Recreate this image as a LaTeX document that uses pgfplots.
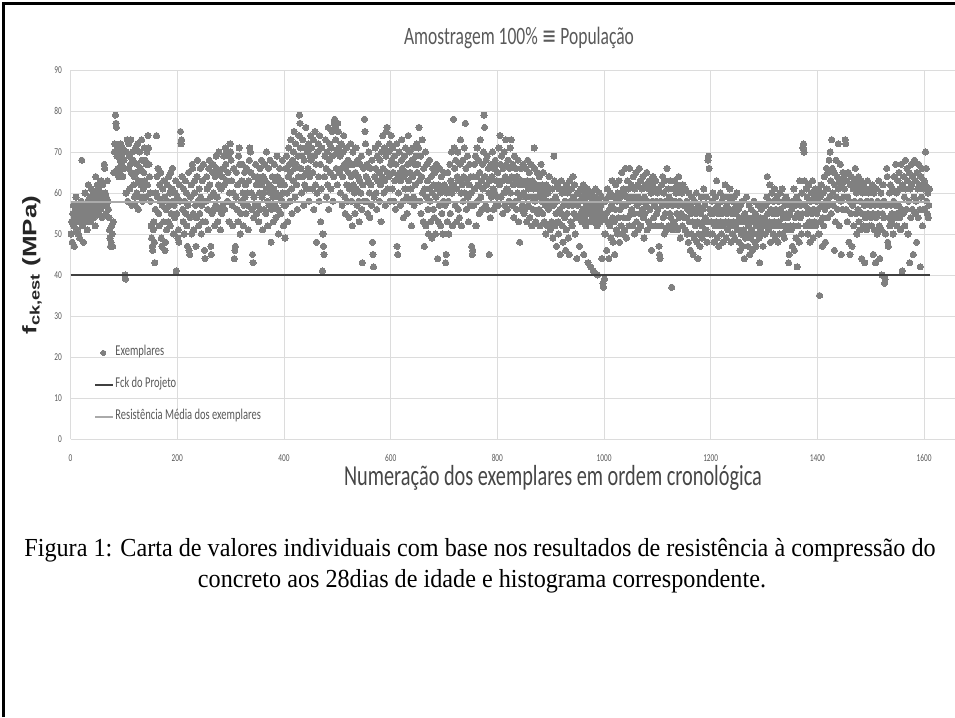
\documentclass[border=0pt]{standalone}
\usepackage{fontspec}
\usepackage{graphicx}
\usepackage{pgfplots}
\usepackage{pgfplotstable}
\pgfplotsset{compat=1.18}
\setmainfont[FakeStretch=0.93]{Liberation Serif}
\newfontfamily\calfont[FakeStretch=0.7]{Carlito}
\newfontfamily\calsym[FakeStretch=0.7]{DejaVu Sans}
\newfontfamily\arialb{Liberation Sans}
\definecolor{dotgray}{RGB}{128,128,128}
\definecolor{fckcol}{RGB}{64,64,64}
\definecolor{meancol}{RGB}{170,170,170}
\definecolor{gridgray}{RGB}{220,220,220}
\definecolor{ticklab}{RGB}{89,89,89}
\definecolor{xlabcol}{RGB}{70,70,70}
\pgfplotsset{
  dotlegend/.style={legend image code/.code={\path[draw=none,fill=none] (0pt,-3pt) rectangle (18pt,3pt);
    \draw[##1, mark size=2.5pt] plot coordinates {(8pt,0pt)};}},
  linelegend/.style={legend image code/.code={\draw[##1, line width=2.2pt] (0pt,0pt) -- (18pt,0pt);}},
}

\pgfplotstableread[row sep=\\,header=false]{
50\\ 53\\ 48\\ 55\\ 57\\ 52\\ 47\\ 54\\ 56\\ 59\\ 53\\ 51\\ 55\\ 50\\ 54\\ 57\\ 49\\ 56\\ 53\\ 58\\ 68\\ 55\\ 52\\ 48\\ 56\\ 54\\ 60\\ 57\\ 53\\ 55\\ 51\\ 58\\ 62\\ 56\\ 54\\ 59\\ 57\\ 53\\ 61\\ 55\\ 58\\ 56\\ 60\\ 54\\ 57\\ 52\\ 64\\ 59\\ 56\\ 62\\
58\\ 55\\ 61\\ 57\\ 60\\ 56\\ 63\\ 59\\ 54\\ 62\\ 58\\ 57\\ 67\\ 66\\ 60\\ 55\\ 59\\ 57\\ 63\\ 58\\ 56\\ 54\\ 51\\ 49\\ 47\\ 48\\ 52\\ 50\\ 47\\ 53\\ 65\\ 70\\ 72\\ 79\\ 77\\ 76\\ 69\\ 71\\ 66\\ 64\\ 70\\ 65\\ 68\\ 72\\ 67\\ 69\\ 71\\ 64\\ 70\\ 68\\
66\\ 40\\ 39\\ 60\\ 70\\ 73\\ 58\\ 66\\ 72\\ 69\\ 61\\ 67\\ 73\\ 65\\ 57\\ 70\\ 68\\ 62\\ 64\\ 59\\ 57\\ 71\\ 65\\ 60\\ 67\\ 72\\ 56\\ 63\\ 70\\ 59\\ 66\\ 62\\ 73\\ 68\\ 58\\ 61\\ 65\\ 71\\ 63\\ 68\\ 59\\ 67\\ 70\\ 62\\ 74\\ 71\\ 67\\ 64\\ 60\\ 58\\
52\\ 49\\ 47\\ 46\\ 51\\ 53\\ 48\\ 43\\ 56\\ 60\\ 74\\ 64\\ 59\\ 66\\ 55\\ 52\\ 62\\ 58\\ 65\\ 49\\ 47\\ 57\\ 61\\ 53\\ 63\\ 59\\ 46\\ 48\\ 56\\ 51\\ 62\\ 58\\ 53\\ 64\\ 57\\ 60\\ 52\\ 65\\ 55\\ 61\\ 66\\ 58\\ 50\\ 57\\ 54\\ 60\\ 63\\ 41\\ 55\\ 59\\
49\\ 51\\ 48\\ 62\\ 58\\ 75\\ 72\\ 73\\ 64\\ 56\\ 53\\ 61\\ 50\\ 58\\ 63\\ 55\\ 60\\ 52\\ 47\\ 57\\ 65\\ 46\\ 45\\ 54\\ 59\\ 62\\ 50\\ 67\\ 66\\ 55\\ 51\\ 60\\ 63\\ 57\\ 47\\ 54\\ 64\\ 68\\ 58\\ 52\\ 61\\ 55\\ 66\\ 59\\ 50\\ 57\\ 63\\ 53\\ 67\\ 58\\
46\\ 44\\ 53\\ 58\\ 64\\ 61\\ 56\\ 51\\ 66\\ 68\\ 62\\ 59\\ 47\\ 45\\ 55\\ 65\\ 67\\ 60\\ 56\\ 52\\ 64\\ 57\\ 69\\ 66\\ 59\\ 53\\ 62\\ 70\\ 65\\ 56\\ 51\\ 61\\ 55\\ 64\\ 57\\ 66\\ 69\\ 62\\ 56\\ 71\\ 67\\ 70\\ 63\\ 58\\ 65\\ 69\\ 53\\ 60\\ 72\\ 70\\
68\\ 63\\ 57\\ 52\\ 60\\ 66\\ 44\\ 46\\ 47\\ 59\\ 65\\ 56\\ 62\\ 53\\ 69\\ 71\\ 67\\ 50\\ 55\\ 58\\ 63\\ 67\\ 60\\ 52\\ 57\\ 65\\ 59\\ 62\\ 55\\ 66\\ 60\\ 57\\ 51\\ 63\\ 68\\ 71\\ 70\\ 65\\ 60\\ 56\\ 45\\ 43\\ 54\\ 59\\ 64\\ 57\\ 67\\ 62\\ 55\\ 64\\
57\\ 63\\ 53\\ 60\\ 66\\ 56\\ 62\\ 68\\ 59\\ 51\\ 64\\ 60\\ 56\\ 67\\ 63\\ 55\\ 70\\ 61\\ 58\\ 52\\ 66\\ 57\\ 62\\ 68\\ 60\\ 48\\ 56\\ 64\\ 59\\ 53\\ 61\\ 67\\ 57\\ 63\\ 54\\ 60\\ 69\\ 64\\ 56\\ 50\\ 59\\ 66\\ 62\\ 55\\ 63\\ 58\\ 68\\ 60\\ 52\\ 57\\
62\\ 49\\ 57\\ 66\\ 69\\ 60\\ 53\\ 64\\ 71\\ 67\\ 58\\ 65\\ 73\\ 61\\ 55\\ 68\\ 63\\ 70\\ 75\\ 66\\ 59\\ 72\\ 67\\ 62\\ 56\\ 69\\ 64\\ 74\\ 79\\ 77\\ 71\\ 66\\ 60\\ 69\\ 73\\ 64\\ 57\\ 68\\ 62\\ 71\\ 76\\ 65\\ 61\\ 70\\ 66\\ 72\\ 58\\ 64\\ 69\\ 74\\
68\\ 71\\ 61\\ 65\\ 73\\ 56\\ 69\\ 75\\ 62\\ 67\\ 48\\ 60\\ 70\\ 72\\ 64\\ 58\\ 74\\ 67\\ 53\\ 61\\ 71\\ 41\\ 50\\ 47\\ 45\\ 64\\ 69\\ 73\\ 66\\ 59\\ 70\\ 62\\ 76\\ 56\\ 68\\ 72\\ 65\\ 61\\ 71\\ 75\\ 69\\ 58\\ 64\\ 77\\ 78\\ 76\\ 73\\ 66\\ 70\\ 62\\
77\\ 75\\ 71\\ 65\\ 69\\ 60\\ 72\\ 66\\ 57\\ 64\\ 70\\ 74\\ 67\\ 59\\ 55\\ 66\\ 71\\ 62\\ 58\\ 68\\ 65\\ 54\\ 61\\ 67\\ 72\\ 64\\ 58\\ 52\\ 70\\ 62\\ 67\\ 60\\ 55\\ 65\\ 71\\ 61\\ 57\\ 68\\ 64\\ 58\\ 53\\ 63\\ 67\\ 60\\ 69\\ 56\\ 43\\ 62\\ 66\\ 58\\
78\\ 75\\ 72\\ 64\\ 58\\ 67\\ 55\\ 63\\ 70\\ 60\\ 54\\ 66\\ 62\\ 57\\ 68\\ 48\\ 45\\ 42\\ 59\\ 64\\ 71\\ 66\\ 60\\ 56\\ 69\\ 63\\ 72\\ 65\\ 58\\ 68\\ 62\\ 53\\ 70\\ 64\\ 74\\ 66\\ 60\\ 71\\ 63\\ 57\\ 69\\ 75\\ 76\\ 65\\ 61\\ 70\\ 64\\ 72\\ 58\\ 67\\
74\\ 68\\ 61\\ 71\\ 65\\ 58\\ 69\\ 63\\ 56\\ 67\\ 72\\ 47\\ 45\\ 64\\ 60\\ 70\\ 65\\ 57\\ 63\\ 68\\ 73\\ 66\\ 58\\ 54\\ 64\\ 69\\ 61\\ 71\\ 65\\ 59\\ 55\\ 67\\ 74\\ 63\\ 70\\ 58\\ 65\\ 61\\ 52\\ 68\\ 64\\ 71\\ 59\\ 57\\ 67\\ 62\\ 69\\ 58\\ 72\\ 65\\
67\\ 71\\ 76\\ 63\\ 58\\ 69\\ 55\\ 64\\ 73\\ 60\\ 53\\ 66\\ 47\\ 61\\ 70\\ 52\\ 59\\ 67\\ 63\\ 56\\ 50\\ 61\\ 68\\ 58\\ 53\\ 64\\ 49\\ 60\\ 66\\ 56\\ 62\\ 54\\ 65\\ 50\\ 59\\ 67\\ 61\\ 44\\ 53\\ 62\\ 57\\ 66\\ 60\\ 52\\ 64\\ 55\\ 61\\ 50\\ 58\\ 65\\
62\\ 57\\ 43\\ 45\\ 60\\ 53\\ 65\\ 58\\ 50\\ 61\\ 67\\ 55\\ 63\\ 70\\ 60\\ 52\\ 62\\ 78\\ 71\\ 66\\ 57\\ 68\\ 61\\ 53\\ 64\\ 70\\ 56\\ 63\\ 54\\ 67\\ 73\\ 60\\ 52\\ 62\\ 68\\ 58\\ 64\\ 71\\ 60\\ 77\\ 66\\ 56\\ 63\\ 69\\ 59\\ 53\\ 62\\ 67\\ 57\\ 64\\
60\\ 47\\ 45\\ 46\\ 64\\ 57\\ 67\\ 61\\ 69\\ 52\\ 64\\ 71\\ 58\\ 62\\ 68\\ 55\\ 65\\ 73\\ 59\\ 63\\ 56\\ 67\\ 61\\ 70\\ 79\\ 76\\ 64\\ 57\\ 68\\ 62\\ 69\\ 56\\ 66\\ 60\\ 45\\ 63\\ 54\\ 67\\ 59\\ 64\\ 70\\ 61\\ 56\\ 66\\ 60\\ 68\\ 57\\ 63\\ 67\\ 59\\
65\\ 57\\ 71\\ 62\\ 74\\ 67\\ 59\\ 69\\ 63\\ 55\\ 66\\ 60\\ 70\\ 57\\ 64\\ 73\\ 67\\ 61\\ 56\\ 68\\ 63\\ 58\\ 66\\ 71\\ 60\\ 73\\ 64\\ 57\\ 67\\ 62\\ 54\\ 69\\ 63\\ 58\\ 66\\ 56\\ 64\\ 60\\ 68\\ 53\\ 62\\ 48\\ 59\\ 66\\ 56\\ 63\\ 57\\ 67\\ 60\\ 55\\
62\\ 56\\ 66\\ 59\\ 53\\ 63\\ 68\\ 57\\ 61\\ 65\\ 54\\ 62\\ 67\\ 59\\ 52\\ 63\\ 56\\ 61\\ 71\\ 66\\ 58\\ 53\\ 62\\ 59\\ 65\\ 55\\ 61\\ 56\\ 64\\ 52\\ 60\\ 67\\ 58\\ 62\\ 55\\ 65\\ 59\\ 53\\ 61\\ 57\\ 50\\ 62\\ 58\\ 52\\ 60\\ 56\\ 64\\ 57\\ 51\\ 61\\
58\\ 53\\ 61\\ 49\\ 57\\ 69\\ 63\\ 52\\ 59\\ 55\\ 47\\ 58\\ 62\\ 53\\ 50\\ 61\\ 56\\ 45\\ 55\\ 63\\ 60\\ 52\\ 48\\ 57\\ 61\\ 54\\ 58\\ 46\\ 51\\ 62\\ 55\\ 60\\ 49\\ 57\\ 45\\ 63\\ 58\\ 53\\ 61\\ 52\\ 57\\ 64\\ 59\\ 55\\ 62\\ 50\\ 58\\ 54\\ 44\\ 60\\
57\\ 54\\ 60\\ 47\\ 58\\ 55\\ 61\\ 53\\ 59\\ 56\\ 62\\ 45\\ 54\\ 58\\ 60\\ 52\\ 57\\ 55\\ 61\\ 43\\ 56\\ 53\\ 59\\ 57\\ 42\\ 55\\ 60\\ 54\\ 58\\ 41\\ 56\\ 53\\ 59\\ 61\\ 55\\ 57\\ 52\\ 40\\ 58\\ 54\\ 60\\ 56\\ 53\\ 57\\ 59\\ 44\\ 55\\ 38\\ 37\\ 54\\
39\\ 50\\ 58\\ 55\\ 46\\ 61\\ 53\\ 59\\ 44\\ 56\\ 52\\ 60\\ 49\\ 57\\ 63\\ 54\\ 48\\ 59\\ 53\\ 45\\ 56\\ 62\\ 51\\ 58\\ 50\\ 60\\ 54\\ 63\\ 48\\ 56\\ 59\\ 52\\ 65\\ 57\\ 50\\ 61\\ 54\\ 60\\ 51\\ 66\\ 57\\ 49\\ 59\\ 63\\ 54\\ 61\\ 52\\ 66\\ 58\\ 55\\
62\\ 56\\ 52\\ 59\\ 64\\ 55\\ 50\\ 61\\ 58\\ 65\\ 53\\ 57\\ 62\\ 51\\ 59\\ 66\\ 55\\ 63\\ 52\\ 58\\ 61\\ 56\\ 64\\ 54\\ 49\\ 59\\ 55\\ 62\\ 57\\ 65\\ 51\\ 58\\ 61\\ 53\\ 63\\ 56\\ 52\\ 60\\ 46\\ 62\\ 58\\ 64\\ 54\\ 57\\ 61\\ 52\\ 63\\ 58\\ 55\\ 60\\
56\\ 61\\ 47\\ 45\\ 44\\ 58\\ 52\\ 62\\ 57\\ 64\\ 54\\ 60\\ 50\\ 63\\ 55\\ 58\\ 51\\ 66\\ 57\\ 61\\ 52\\ 59\\ 55\\ 63\\ 54\\ 58\\ 37\\ 51\\ 57\\ 61\\ 53\\ 63\\ 58\\ 52\\ 60\\ 55\\ 62\\ 51\\ 57\\ 64\\ 54\\ 58\\ 49\\ 61\\ 55\\ 60\\ 52\\ 62\\ 57\\ 54\\
57\\ 51\\ 61\\ 54\\ 58\\ 50\\ 56\\ 48\\ 60\\ 53\\ 57\\ 46\\ 55\\ 50\\ 59\\ 53\\ 45\\ 56\\ 49\\ 58\\ 52\\ 55\\ 60\\ 48\\ 53\\ 44\\ 57\\ 50\\ 56\\ 47\\ 55\\ 59\\ 52\\ 49\\ 56\\ 53\\ 61\\ 50\\ 57\\ 54\\ 51\\ 59\\ 48\\ 53\\ 68\\ 69\\ 66\\ 56\\ 50\\ 55\\
53\\ 58\\ 50\\ 60\\ 55\\ 48\\ 56\\ 52\\ 59\\ 53\\ 63\\ 49\\ 57\\ 55\\ 47\\ 56\\ 52\\ 60\\ 53\\ 50\\ 58\\ 55\\ 48\\ 59\\ 52\\ 56\\ 62\\ 53\\ 49\\ 57\\ 55\\ 51\\ 59\\ 53\\ 56\\ 61\\ 52\\ 48\\ 55\\ 58\\ 50\\ 56\\ 53\\ 59\\ 49\\ 55\\ 52\\ 57\\ 60\\ 53\\
51\\ 56\\ 48\\ 54\\ 46\\ 57\\ 50\\ 53\\ 58\\ 47\\ 54\\ 51\\ 44\\ 55\\ 49\\ 53\\ 59\\ 50\\ 54\\ 47\\ 52\\ 57\\ 45\\ 53\\ 49\\ 56\\ 51\\ 46\\ 54\\ 50\\ 58\\ 53\\ 48\\ 55\\ 47\\ 52\\ 54\\ 50\\ 57\\ 53\\ 49\\ 43\\ 54\\ 51\\ 56\\ 50\\ 53\\ 47\\ 57\\ 52\\
54\\ 50\\ 57\\ 52\\ 59\\ 64\\ 55\\ 51\\ 58\\ 53\\ 62\\ 48\\ 56\\ 52\\ 60\\ 55\\ 50\\ 58\\ 53\\ 61\\ 49\\ 56\\ 52\\ 59\\ 55\\ 48\\ 58\\ 53\\ 50\\ 60\\ 56\\ 52\\ 55\\ 61\\ 50\\ 58\\ 54\\ 49\\ 57\\ 52\\ 59\\ 55\\ 51\\ 54\\ 58\\ 43\\ 45\\ 55\\ 52\\ 57\\
51\\ 56\\ 47\\ 58\\ 52\\ 61\\ 46\\ 54\\ 57\\ 49\\ 59\\ 42\\ 55\\ 52\\ 58\\ 48\\ 63\\ 54\\ 57\\ 50\\ 60\\ 55\\ 71\\ 72\\ 70\\ 63\\ 57\\ 52\\ 61\\ 55\\ 59\\ 50\\ 56\\ 62\\ 53\\ 48\\ 58\\ 52\\ 60\\ 55\\ 63\\ 49\\ 56\\ 59\\ 53\\ 61\\ 52\\ 58\\ 55\\ 60\\
56\\ 61\\ 50\\ 35\\ 59\\ 53\\ 62\\ 57\\ 47\\ 54\\ 60\\ 52\\ 64\\ 56\\ 48\\ 58\\ 66\\ 61\\ 54\\ 65\\ 57\\ 68\\ 59\\ 70\\ 63\\ 55\\ 73\\ 66\\ 60\\ 57\\ 65\\ 46\\ 62\\ 53\\ 68\\ 59\\ 64\\ 56\\ 72\\ 61\\ 52\\ 63\\ 67\\ 58\\ 45\\ 62\\ 56\\ 65\\ 59\\ 64\\
61\\ 73\\ 72\\ 56\\ 63\\ 53\\ 59\\ 65\\ 48\\ 58\\ 45\\ 62\\ 55\\ 64\\ 47\\ 57\\ 61\\ 52\\ 63\\ 58\\ 66\\ 55\\ 60\\ 50\\ 62\\ 56\\ 64\\ 53\\ 61\\ 51\\ 58\\ 63\\ 44\\ 55\\ 60\\ 52\\ 62\\ 57\\ 43\\ 54\\ 61\\ 51\\ 58\\ 63\\ 55\\ 60\\ 52\\ 61\\ 57\\ 54\\
58\\ 52\\ 62\\ 55\\ 45\\ 60\\ 51\\ 57\\ 43\\ 54\\ 61\\ 50\\ 58\\ 55\\ 63\\ 52\\ 44\\ 57\\ 60\\ 51\\ 40\\ 55\\ 62\\ 54\\ 58\\ 38\\ 39\\ 50\\ 57\\ 66\\ 64\\ 48\\ 47\\ 54\\ 60\\ 52\\ 62\\ 57\\ 53\\ 55\\ 61\\ 50\\ 58\\ 64\\ 54\\ 57\\ 67\\ 60\\ 52\\ 55\\
63\\ 57\\ 65\\ 54\\ 61\\ 51\\ 67\\ 56\\ 41\\ 62\\ 55\\ 64\\ 59\\ 52\\ 68\\ 61\\ 56\\ 66\\ 63\\ 50\\ 58\\ 65\\ 43\\ 61\\ 54\\ 67\\ 62\\ 56\\ 64\\ 45\\ 59\\ 68\\ 55\\ 63\\ 58\\ 48\\ 65\\ 61\\ 54\\ 67\\ 62\\ 56\\ 42\\ 64\\ 59\\ 66\\ 52\\ 61\\ 56\\ 63\\
56\\ 62\\ 70\\ 66\\ 58\\ 55\\ 60\\ 54\\ 57\\ 61\\
}\fckdata

\begin{document}
\begin{tikzpicture}
\path[use as bounding box] (0,0) rectangle (955pt,717pt);
\begin{axis}[
  scale only axis, width=884.4pt, height=369pt,
  at={(70.6pt,278pt)}, anchor=south west,
  xmin=0, xmax=1658, ymin=0, ymax=90,
  xtick={0,200,...,1600}, ytick={0,10,...,90},
  grid=major, major grid style={draw=gridgray, line width=0.9pt},
  axis line style={draw=none}, major tick length=0pt,
  clip mode=individual,
  tick label style={font=\calfont\fontsize{10.5}{10.5}\selectfont, text=ticklab},
  /pgf/number format/assume math mode=true,
  /pgf/number format/1000 sep={},
  xticklabel style={anchor=north, inner sep=0pt, yshift=-15pt},
  yticklabel style={anchor=east, inner sep=0pt, xshift=-8.5pt},
  legend cell align=left,
  legend style={at={(0.0265,0.253)}, anchor=north west, draw=none, fill=none,
    inner sep=0pt, font=\calfont\fontsize{15}{15}\selectfont, text=ticklab,
    nodes={inner sep=0pt, text height=10pt, text depth=4pt},
    row sep=18pt, /tikz/every odd column/.append style={column sep=1pt}},
]
\addplot[only marks, mark=*, mark size=3.1pt, color=dotgray,
  mark options={fill=dotgray, draw=dotgray, line width=0pt}, dotlegend]
  table[x expr=\coordindex+1, y index=0]{\fckdata};
\addlegendentry{Exemplares}
\addplot[fckcol, line width=2.6pt, linelegend]
  coordinates {(0,40) (1611,40)};
\addlegendentry{Fck do Projeto}
\addplot[meancol, line width=2.6pt, linelegend]
  coordinates {(0,57.8) (1611,57.8)};
\addlegendentry{Resistência Média dos exemplares}
\end{axis}
\node[font=\calfont\fontsize{25}{25}\selectfont, text=ticklab] at (519pt,679pt)
  {Amostragem 100\% {\calsym ≡} População};
\node[font=\calfont\fontsize{29}{29}\selectfont, text=xlabcol] at (553pt,239pt)
  {Numeração dos exemplares em ordem cronológica};
\node[rotate=90, font=\arialb\bfseries\fontsize{26}{26}\selectfont, text=black!85] at (32pt,452pt)
  {\scalebox{1}[0.75]{f\textsubscript{ck,est} (MPa)}};
\node[anchor=base, font=\fontsize{26}{30}\selectfont] at (480pt,160pt)
  {Figura 1: Carta de valores individuais com base nos resultados de resistência à compressão do};
\node[anchor=base, font=\fontsize{26}{30}\selectfont] at (482pt,129pt)
  {concreto aos 28dias de idade e histograma correspondente.};
\draw[line width=3pt, black] (3pt,0pt) -- (3pt,713.5pt) -- (955pt,713.5pt);
\end{tikzpicture}
\end{document}
